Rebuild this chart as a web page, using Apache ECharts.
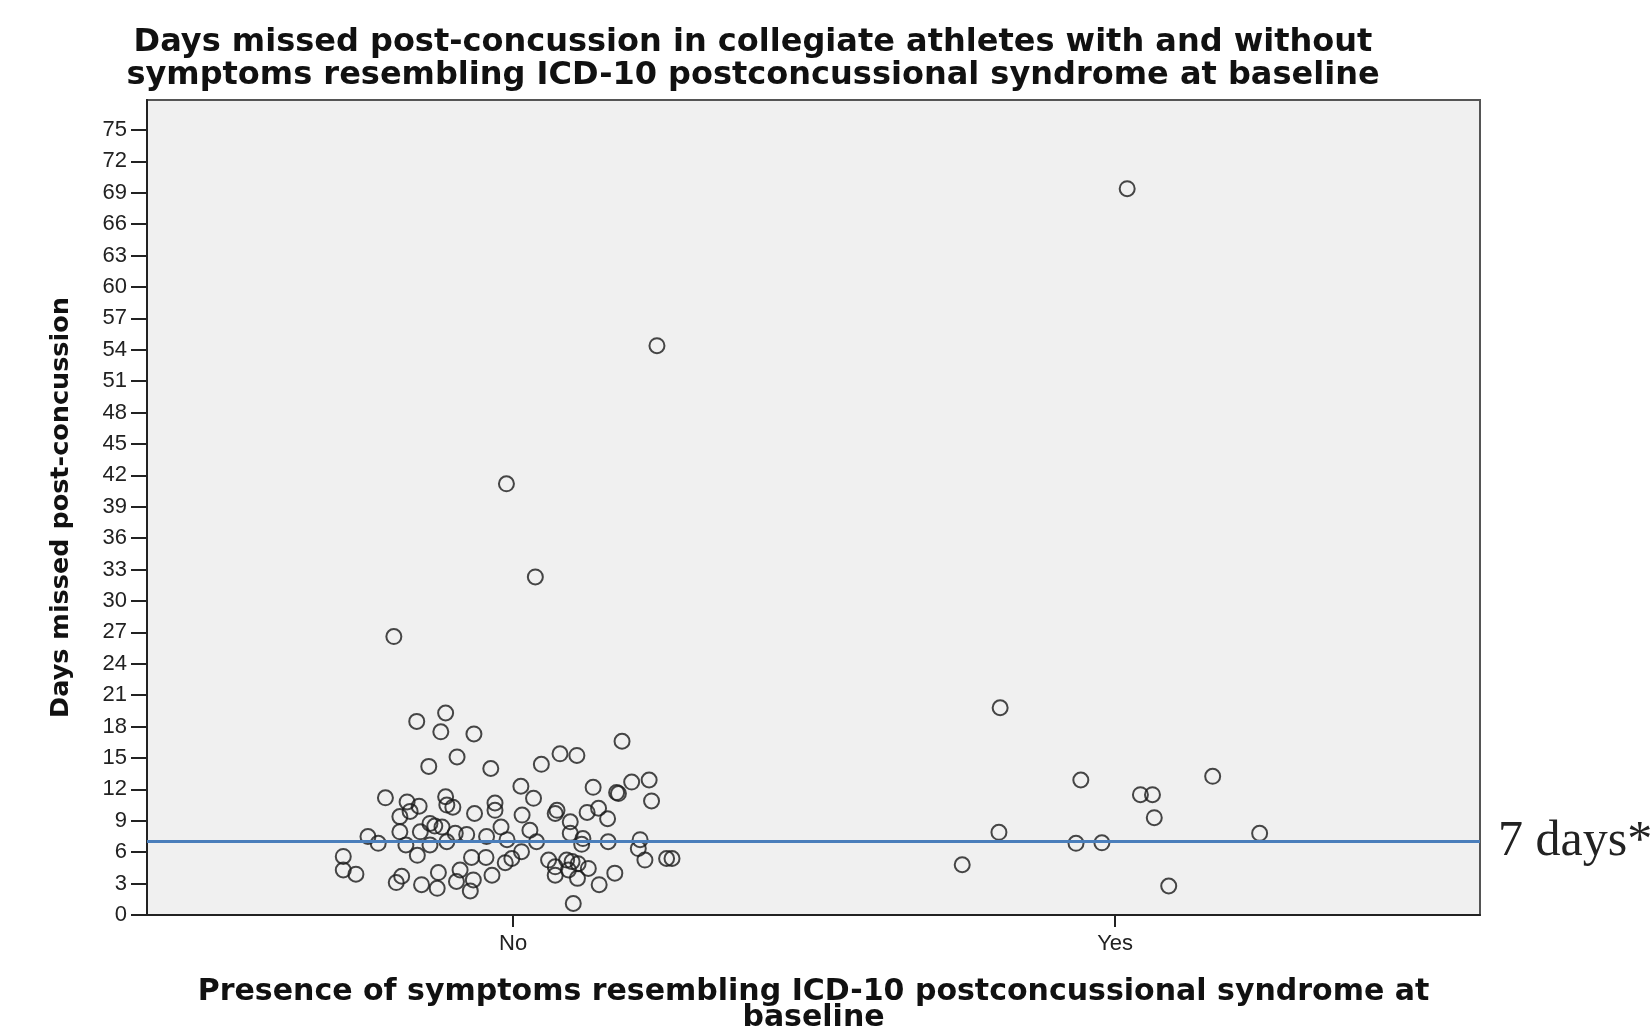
<!DOCTYPE html>
<html>
<head>
<meta charset="utf-8">
<script src="https://cdn.jsdelivr.net/npm/echarts@6/dist/echarts.min.js"></script>
<style>
html,body{margin:0;padding:0;background:#fff;}
#chart{width:1651px;height:1026px;}
</style>
</head>
<body>
<div id="chart"></div>
<script>
// Categories on the x axis (category centre positions 1 and 2)
var categories = ['No', 'Yes'];
// Y-axis tick values
var yTicks = [0,3,6,9,12,15,18,21,24,27,30,33,36,39,42,45,48,51,54,57,60,63,66,69,72,75];
// Reference line (days)
var refDays = 7;
var refLabel = '7 days*';

// Group "No": horizontal jitter offset (from category centre) and days missed
var noOffset = [-0.160,-0.112,-0.120,-0.065,-0.093,-0.140,-0.037,0.013,-0.212,-0.176,
  -0.156,-0.112,-0.110,-0.100,-0.030,-0.030,-0.064,0.015,-0.188,-0.171,
  -0.138,-0.130,-0.118,-0.188,-0.154,-0.096,-0.077,-0.020,-0.241,-0.224,
  -0.178,-0.138,-0.110,-0.044,-0.010,-0.159,-0.282,-0.282,-0.261,-0.069,
  -0.045,-0.013,-0.002,-0.194,-0.185,-0.152,-0.124,-0.126,-0.088,-0.094,
  -0.066,-0.071,-0.035,0.181,0.078,0.106,0.047,0.034,0.133,0.175,
  0.172,0.197,0.226,0.230,0.073,0.070,0.123,0.142,0.157,0.028,
  0.095,0.095,0.116,0.114,0.039,0.158,0.211,0.208,0.219,0.255,
  0.264,0.014,0.059,0.070,0.089,0.098,0.108,0.070,0.092,0.107,
  0.125,0.169,0.143,0.100,0.239,-0.011,0.037,-0.198];
var noDays = [18.5,19.3,17.5,17.3,15.1,14.2,14.0,12.3,11.2,10.8,
  10.4,11.3,10.5,10.3,10.7,10.0,9.7,9.55,9.4,9.9,
  8.75,8.5,8.4,7.95,7.95,7.8,7.7,8.4,7.5,6.85,
  6.7,6.7,7.0,7.5,7.2,5.7,5.6,4.3,3.9,5.5,
  5.5,5.0,5.4,3.1,3.7,2.9,4.05,2.55,4.3,3.2,
  3.35,2.3,3.8,16.6,15.4,15.25,14.4,11.15,12.2,11.6,
  11.7,12.7,12.9,10.9,10.0,9.7,9.8,10.2,9.2,8.1,
  8.9,7.8,7.3,6.75,7.0,7.0,7.2,6.35,5.25,5.4,
  5.4,6.05,5.25,4.6,5.25,5.1,4.9,3.8,4.3,3.5,
  4.45,4.0,2.9,1.1,54.4,41.2,32.3,26.6];

// Group "Yes"
var yesOffset = [-0.191,-0.057,0.042,0.062,0.162,0.065,-0.193,0.240,-0.065,-0.022,-0.254,0.089,0.020];
var yesDays = [19.8,12.9,11.5,11.5,13.25,9.3,7.9,7.8,6.85,6.9,4.8,2.77,69.4];

var noData = noDays.map(function(d, i){ return [1 + noOffset[i], d]; });
var yesData = yesDays.map(function(d, i){ return [2 + yesOffset[i], d]; });

var chart = echarts.init(document.getElementById('chart'), null, {renderer: 'canvas'});
var markerStyle = {color: 'rgba(0,0,0,0)', borderColor: '#1a1a1a', borderWidth: 2};

chart.setOption({
  backgroundColor: '#ffffff',
  animation: false,
  title: {
    text: 'Days missed post-concussion in collegiate athletes with and without\nsymptoms resembling ICD-10 postconcussional syndrome at baseline',
    left: 753,
    textAlign: 'center',
    top: 26,
    padding: 0,
    textStyle: {fontFamily: 'DejaVu Sans', fontWeight: 'bold', fontSize: 32, lineHeight: 33, color: '#111'}
  },
  grid: {
    left: 147, right: 171, top: 100, bottom: 111,
    outerBoundsMode: 'none',
    containLabel: false,
    show: true, backgroundColor: '#f0f0f0', borderColor: '#555', borderWidth: 2
  },
  xAxis: {
    type: 'value',
    min: 0.392, max: 2.606,
    name: 'Presence of symptoms resembling ICD-10 postconcussional syndrome at\nbaseline',
    nameLocation: 'middle',
    nameGap: 64,
    nameTextStyle: {fontFamily: 'DejaVu Sans', fontWeight: 'bold', fontSize: 30, lineHeight: 26, color: '#111'},
    axisLine: {show: true, lineStyle: {color: '#222', width: 2}},
    axisTick: {show: true, length: 12, customValues: [1, 2], lineStyle: {color: '#222', width: 2}},
    axisLabel: {
      customValues: [1, 2], margin: 18,
      fontFamily: 'Liberation Sans', fontSize: 22, color: '#222',
      formatter: function(v){ return categories[Math.round(v) - 1] || ''; }
    },
    splitLine: {show: false}
  },
  yAxis: {
    type: 'value',
    min: 0, max: 77.87,
    name: 'Days missed post-concussion',
    nameLocation: 'middle',
    nameGap: 73,
    nameTextStyle: {fontFamily: 'DejaVu Sans', fontWeight: 'bold', fontSize: 25.5, color: '#111'},
    axisLine: {show: true, lineStyle: {color: '#222', width: 2}},
    axisTick: {show: true, length: 16, customValues: yTicks, lineStyle: {color: '#222', width: 2}},
    axisLabel: {customValues: yTicks, margin: 20, fontFamily: 'Liberation Sans', fontSize: 22, color: '#222'},
    splitLine: {show: false}
  },
  series: [
    {
      name: 'No', type: 'scatter', data: noData,
      symbol: 'circle', symbolSize: 15, itemStyle: markerStyle,
      markLine: {
        silent: true, symbol: 'none', animation: false,
        lineStyle: {color: '#4a7ebb', width: 3, type: 'solid'},
        label: {show: true, position: 'end', distance: 18, formatter: refLabel,
          fontFamily: 'Liberation Serif', fontSize: 50, color: '#222'},
        data: [{yAxis: refDays}]
      },
      z: 3
    },
    {
      name: 'Yes', type: 'scatter', data: yesData,
      symbol: 'circle', symbolSize: 15, itemStyle: markerStyle, z: 3
    }
  ]
});
</script>
</body>
</html>
